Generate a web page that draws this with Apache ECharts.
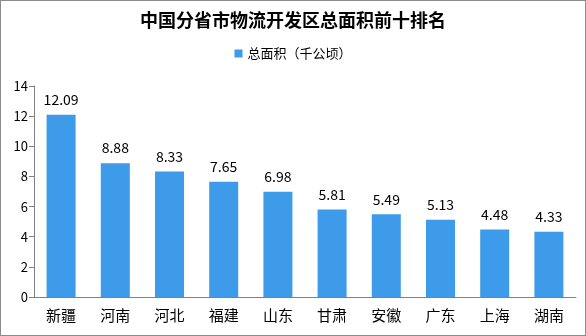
<!DOCTYPE html>
<html><head><meta charset="utf-8">
<script src="https://cdn.jsdelivr.net/npm/echarts@6/dist/echarts.min.js"></script>
<style>html,body{margin:0;padding:0;background:#fff}#c{width:586px;height:336px;box-sizing:border-box;border:1px solid #8c8c8c}</style>
</head><body><div id="c"></div>
<script>
const categories = ['新疆','河南','河北','福建','山东','甘肃','安徽','广东','上海','湖南'];
const values = [12.09, 8.88, 8.33, 7.65, 6.98, 5.81, 5.49, 5.13, 4.48, 4.33];
const seriesName = '总面积（千公顷）';
const titleText = '中国分省市物流开发区总面积前十排名';
const font = '"Noto Sans CJK SC", sans-serif';
const chart = echarts.init(document.getElementById('c'));
chart.setOption({
  animation: false,
  title: {text: titleText, left: 'center', top: 5, textStyle: {fontSize: 18, fontWeight: 'bold', color: '#000', fontFamily: font}},
  legend: {data: [seriesName], top: 41, left: 'center', itemWidth: 8, itemHeight: 8, itemGap: 6, icon: 'rect',
    textStyle: {fontSize: 13, color: '#000', fontFamily: font}},
  grid: {left: 33, right: 9, top: 85, bottom: 38},
  xAxis: {type: 'category', data: categories,
    axisLine: {lineStyle: {color: '#808080'}}, axisTick: {lineStyle: {color: '#808080'}, length: 5},
    axisLabel: {fontSize: 15, color: '#000', margin: 11, fontFamily: font}},
  yAxis: {type: 'value', min: 0, max: 14, interval: 2, splitLine: {show: false},
    axisLine: {show: true, lineStyle: {color: '#808080'}}, axisTick: {show: true, lineStyle: {color: '#808080'}, length: 5},
    axisLabel: {fontSize: 13, color: '#000', margin: 6, fontFamily: font}},
  series: [{name: seriesName, type: 'bar', data: values, barWidth: 29,
    itemStyle: {color: '#3d9be9'},
    label: {show: true, position: 'top', distance: 8, fontSize: 14, color: '#000', fontFamily: font, formatter: p => p.value.toFixed(2)}}]
});
</script></body></html>
